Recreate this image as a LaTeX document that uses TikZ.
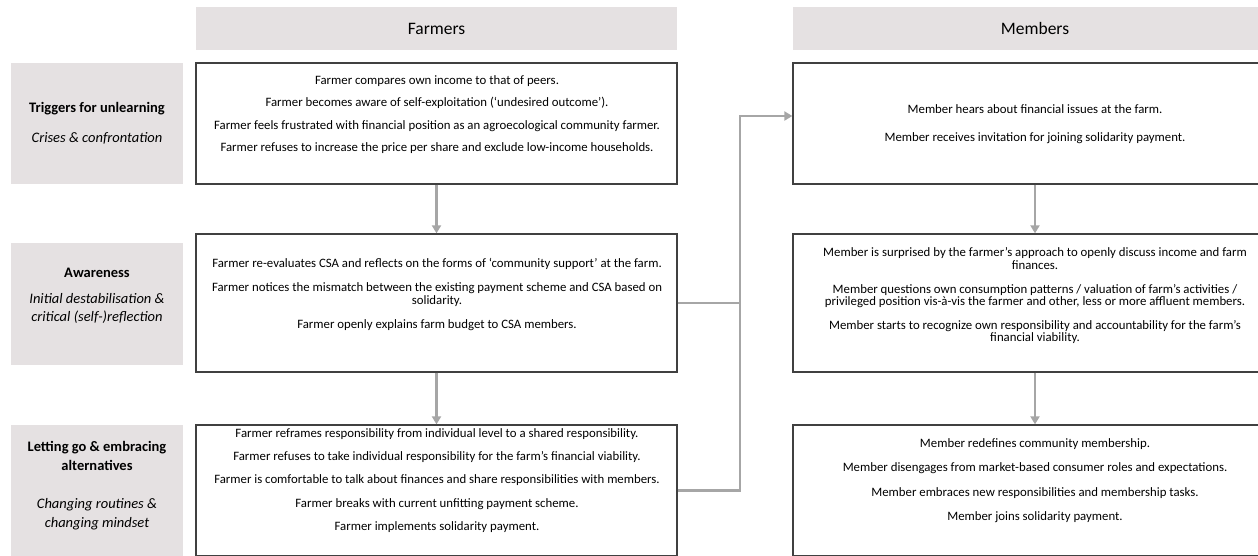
\documentclass[tikz,border=0pt]{standalone}
\usepackage{fontspec}
\setmainfont{Carlito}
\usetikzlibrary{arrows.meta}
\definecolor{headgray}{HTML}{E5E1E2}
\definecolor{linkgray}{HTML}{A6A6A6}
\definecolor{boxline}{HTML}{404040}

\begin{document}
\begin{tikzpicture}[x=1pt,y=-1pt,
  head/.style={fill=headgray, minimum height=43pt, inner sep=0pt, font=\fontsize{17.5}{20}\selectfont},
  stage/.style={fill=headgray, minimum width=172pt, inner sep=0pt},
  stagetext/.style={align=center, inner sep=0pt, font=\fontsize{14.5}{18.5}\selectfont},
  fbox/.style={draw=boxline, line width=1.3pt, minimum width=481pt, inner sep=0pt},
  mbox/.style={fbox, minimum width=484pt},
  item/.style={align=center, inner sep=0pt, font=\fontsize{12.8}{12.8}\selectfont},
  link/.style={draw=linkgray, line width=2.5pt},
  tip/.style={link, -{Triangle[length=8pt,width=9pt]}}]
\useasboundingbox (0,0) rectangle (1258,555);
\clip (0,0) rectangle (1258,555);

% column heads
\node[head, minimum width=481pt] (farmers) at (436.5,28.5) {Farmers};
\node[head, minimum width=484pt] (members) at (1035,28.5) {Members};

% stages
\node[stage, minimum height=121pt] (s1) at (97,123.5) {};
\node[stage, minimum height=122pt] (s2) at (97,304) {};
\node[stage, minimum height=140pt] (s3) at (97,495) {};
\node[stagetext] (s1txt) at (97,123) {\bfseries Triggers for unlearning\\[11.5pt]
  \itshape Crises \& confrontation};
\node[stagetext] (s2txt) at (97,296) {\bfseries Awareness\\[7.5pt]
  \itshape Initial destabilisation \&\\ \itshape critical (self-)reflection};
\node[stagetext] (s3txt) at (97,485.5) {\bfseries Letting go \& embracing\\[0.5pt] \bfseries alternatives\\[19.5pt]
  \itshape Changing routines \&\\ \itshape changing mindset};

% farmers
\node[fbox, minimum height=121pt] (f1) at (436.5,123.5) {};
\node[fbox, minimum height=138pt] (f2) at (436.5,303) {};
\node[fbox, minimum height=131pt] (f3) at (436.5,490.5) {};
\node[item] (f1txt) at (437,114.5) {Farmer compares own income to that of peers.\\[9.5pt]
  Farmer becomes aware of self-exploitation (‘undesired outcome’).\\[9.5pt]
  Farmer feels frustrated with financial position as an agroecological community farmer.\\[9.5pt]
  Farmer refuses to increase the price per share and exclude low-income households.};
\node[item] (f2txt) at (437,294.5) {Farmer re-evaluates CSA and reflects on the forms of ‘community support’ at the farm.\\[11.5pt]
  Farmer notices the mismatch between the existing payment scheme and CSA based on\\ solidarity.\\[11pt]
  Farmer openly explains farm budget to CSA members.};
\node[item] (f3txt) at (437,480.5) {Farmer reframes responsibility from individual level to a shared responsibility.\\[10.5pt]
  Farmer refuses to take individual responsibility for the farm’s financial viability.\\[10.5pt]
  Farmer is comfortable to talk about finances and share responsibilities with members.\\[10.5pt]
  Farmer breaks with current unfitting payment scheme.\\[10.5pt]
  Farmer implements solidarity payment.};

% members
\node[mbox, minimum height=121pt] (m1) at (1035,123.5) {};
\node[mbox, minimum height=138pt] (m2) at (1035,303) {};
\node[mbox, minimum height=131pt] (m3) at (1035,490.5) {};
\node[item] (m1txt) at (1035,124) {Member hears about financial issues at the farm.\\[15pt]
  Member receives invitation for joining solidarity payment.};
\node[item] (m2txt) at (1035,296) {Member is surprised by the farmer’s approach to openly discuss income and farm\\ finances.\\[10.5pt]
  Member questions own consumption patterns / valuation of farm’s activities /\\ privileged position vis-à-vis the farmer and other, less or more affluent members.\\[10.5pt]
  Member starts to recognize own responsibility and accountability for the farm’s\\ financial viability.};
\node[item] (m3txt) at (1035,480.5) {Member redefines community membership.\\[11.5pt]
  Member disengages from market-based consumer roles and expectations.\\[11.5pt]
  Member embraces new responsibilities and membership tasks.\\[11.5pt]
  Member joins solidarity payment.};

% connectors
\coordinate (bend) at (740,116);
\draw[tip] (f1) -- (f2);
\draw[tip] (f2) -- (f3);
\draw[tip] (m1) -- (m2);
\draw[tip] (m2) -- (m3);
\draw[link] (f2.east) -- (f2.east -| bend);
\draw[tip] (f3.east) -| (bend) -- (bend -| m1.west);
\end{tikzpicture}
\end{document}
